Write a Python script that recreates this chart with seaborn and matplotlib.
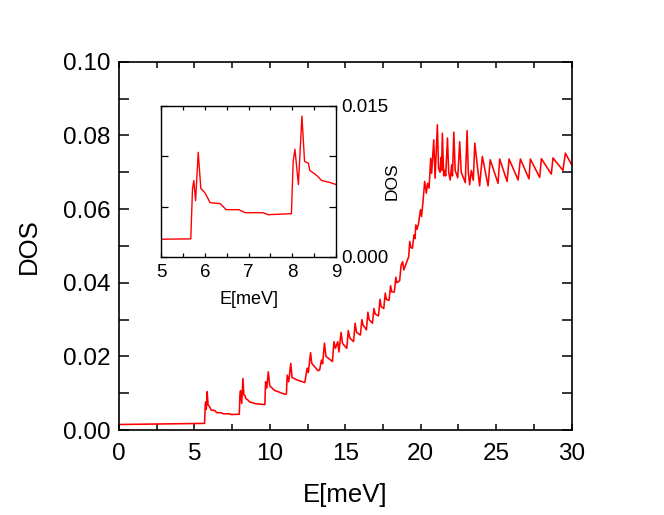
import matplotlib
matplotlib.use("Agg")
import matplotlib.pyplot as plt
from matplotlib.ticker import MultipleLocator
import seaborn as sns

# density of states
energy = [0.00, 5.68, 5.72, 5.75, 5.79, 5.85, 5.91, 6.00, 6.05, 6.12, 6.35, 6.49, 6.78, 6.92, 7.33, 7.45,
          7.98, 8.02, 8.06, 8.14, 8.22, 8.28, 8.37, 8.40, 8.56, 8.67, 8.86, 9.00, 9.40, 9.67, 9.72, 9.80,
          9.90, 10.00, 10.30, 11.00, 11.10, 11.15, 11.25, 11.39, 11.47, 11.80, 12.32, 12.47, 12.55, 12.70,
          12.78, 13.20, 13.30, 13.42, 13.50, 13.62, 13.72, 14.15, 14.25, 14.35, 14.50, 14.58, 14.72, 14.82,
          15.10, 15.20, 15.30, 15.55, 15.65, 15.75, 16.00, 16.10, 16.18, 16.40, 16.50, 16.58, 16.80, 16.90,
          16.98, 17.20, 17.30, 17.38, 17.55, 17.65, 17.72, 17.90, 18.00, 18.08, 18.25, 18.35, 18.42, 18.60,
          18.70, 18.80, 18.88, 19.00, 19.10, 19.20, 19.27, 19.35, 19.45, 19.55, 19.62, 19.67, 19.75, 19.85,
          19.98, 20.05, 20.15, 20.26, 20.37, 20.45, 20.55, 20.66, 20.72, 20.86, 20.95, 21.10, 21.18, 21.28,
          21.34, 21.38, 21.43, 21.52, 21.60, 21.65, 21.77, 21.85, 21.95, 22.05, 22.10, 22.19, 22.28, 22.45,
          22.58, 22.68, 22.95, 23.07, 23.15, 23.24, 23.35, 23.48, 23.58, 23.90, 24.08, 24.46, 24.60, 25.12,
          25.23, 25.72, 25.85, 26.45, 26.60, 27.17, 27.26, 27.88, 27.99, 28.65, 28.76, 29.42, 29.58, 30.00]
dos = [0.0015, 0.0018, 0.0068, 0.0076, 0.0056, 0.0104, 0.0068, 0.0064, 0.0060, 0.0054, 0.0053, 0.0047,
       0.0047, 0.0044, 0.0044, 0.0042, 0.0043, 0.0095, 0.0107, 0.0072, 0.0140, 0.0095, 0.0093, 0.0086,
       0.0081, 0.0076, 0.0074, 0.0072, 0.0070, 0.0069, 0.0131, 0.0114, 0.0158, 0.0120, 0.0108, 0.0097,
       0.0098, 0.0149, 0.0131, 0.0181, 0.0143, 0.0136, 0.0129, 0.0168, 0.0156, 0.0210, 0.0181, 0.0161,
       0.0163, 0.0190, 0.0180, 0.0236, 0.0200, 0.0186, 0.0240, 0.0222, 0.0240, 0.0212, 0.0265, 0.0235,
       0.0222, 0.0270, 0.0250, 0.0240, 0.0290, 0.0265, 0.0258, 0.0300, 0.0285, 0.0272, 0.0320, 0.0300,
       0.0290, 0.0330, 0.0315, 0.0310, 0.0355, 0.0335, 0.0330, 0.0372, 0.0355, 0.0352, 0.0392, 0.0375,
       0.0375, 0.0415, 0.0400, 0.0405, 0.0448, 0.0457, 0.0435, 0.0448, 0.0460, 0.0470, 0.0512, 0.0495,
       0.0494, 0.0530, 0.0520, 0.0557, 0.0545, 0.0560, 0.0598, 0.0580, 0.0620, 0.0675, 0.0643, 0.0670,
       0.0657, 0.0738, 0.0697, 0.0788, 0.0684, 0.0829, 0.0711, 0.0700, 0.0740, 0.0705, 0.0806, 0.0690,
       0.0705, 0.0690, 0.0793, 0.0700, 0.0679, 0.0720, 0.0690, 0.0809, 0.0705, 0.0685, 0.0783, 0.0700,
       0.0672, 0.0813, 0.0700, 0.0666, 0.0705, 0.0678, 0.0779, 0.0663, 0.0743, 0.0663, 0.0734, 0.0670,
       0.0736, 0.0675, 0.0736, 0.0679, 0.0736, 0.0682, 0.0736, 0.0686, 0.0737, 0.0695, 0.0739, 0.0705,
       0.0752, 0.0720]

main_xticks = [0, 5, 10, 15, 20, 25, 30]
main_yticks = [0.00, 0.02, 0.04, 0.06, 0.08, 0.10]
main_ylabels = ["0.00", "0.02", "0.04", "0.06", "0.08", "0.10"]
inset_xticks = [5, 6, 7, 8, 9]
inset_yticks = [0.000, 0.005, 0.010, 0.015]
inset_ylabels = ["0.000", "", "", "0.015"]

sns.set_style("ticks")
plt.rcParams["font.family"] = ["Liberation Sans", "DejaVu Sans"]
plt.rcParams["axes.labelcolor"] = "black"
plt.rcParams["text.color"] = "black"

fig = plt.figure(figsize=(6.64, 5.15), dpi=100)

# main panel
ax = fig.add_axes([0.179, 0.165, 0.682, 0.715])
sns.lineplot(x=energy, y=dos, ax=ax, color="red", linewidth=1.15, estimator=None, sort=False)
ax.set_xlim(0, 30)
ax.set_ylim(0, 0.10)
ax.set_xticks(main_xticks)
ax.set_xticklabels([str(t) for t in main_xticks])
ax.xaxis.set_minor_locator(MultipleLocator(2.5))
ax.set_yticks(main_yticks)
ax.set_yticklabels(main_ylabels)
ax.yaxis.set_minor_locator(MultipleLocator(0.01))
ax.tick_params(which="both", direction="in", top=True, right=True, width=1.1, colors="black",
               labelsize=17.5)
ax.tick_params(axis="x", which="both", length=4, pad=9)
ax.tick_params(axis="y", which="both", length=7, pad=6)
for s in ax.spines.values():
    s.set_linewidth(1.2)
    s.set_color("black")
ax.set_xlabel("E[meV]", fontsize=18.5, labelpad=13)
ax.set_ylabel("DOS", fontsize=18.5, labelpad=16)

# inset
axin = fig.add_axes([0.2425, 0.501, 0.2636, 0.2932])
sns.lineplot(x=energy, y=dos, ax=axin, color="red", linewidth=1.0, estimator=None, sort=False)
axin.set_xlim(5, 9)
axin.set_ylim(0, 0.015)
axin.set_xticks(inset_xticks)
axin.set_xticklabels([str(t) for t in inset_xticks])
axin.xaxis.set_minor_locator(MultipleLocator(0.5))
axin.set_yticks(inset_yticks)
axin.set_yticklabels(inset_ylabels)
axin.tick_params(which="both", direction="in", top=True, right=True, left=True,
                 labelleft=False, labelright=True, width=0.9, colors="black", labelsize=13.5)
axin.tick_params(axis="x", which="both", length=3, pad=5)
axin.tick_params(axis="y", which="both", length=5, pad=4)
for s in axin.spines.values():
    s.set_linewidth(1.0)
    s.set_color("black")
axin.set_xlabel("E[meV]", fontsize=13, labelpad=7)
axin.set_ylabel("DOS", fontsize=12.5)
axin.yaxis.set_label_position("right")
axin.yaxis.set_label_coords(1.28, 0.5)

fig.savefig("out.png", dpi=100)
